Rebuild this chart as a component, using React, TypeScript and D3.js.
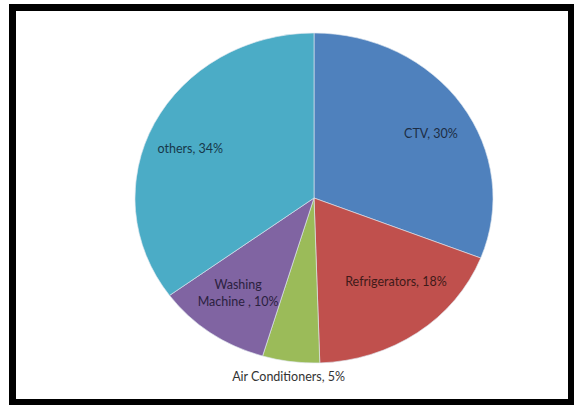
import React from "react";
import * as d3 from "d3";

const categories = ["CTV", "Refrigerators", "Air Conditioners", "Washing Machine", "others"];
const values = [30, 18, 5, 10, 34];
const labelLines = [["CTV, 30%"], ["Refrigerators, 18%"], ["Air Conditioners, 5%"], ["Washing", "Machine , 10%"], ["others, 34%"]];
const colors = ["#4F81BD", "#C0504D", "#9BBB59", "#8064A2", "#4BACC6"];
const labelColors = ["#1d2d44", "#3f1a19", "#333333", "#2b2140", "#17384a"];
const labelRadius = [0.757, 0.69, 1.1, 0.72, 0.75];
const labelAngleShift = [4, -6.3, 0, 0.8, -4.1];

const W = 574;
const H = 405;
const cx = 314;
const cy = 198;
const R = 165;
const sx = 179 / 165;

export default function App() {
  const data = categories.map((c, i) => ({ name: c, value: values[i], i }));
  const pie = d3.pie<any>().sort(null).value((d: any) => d.value).startAngle(0).endAngle(2 * Math.PI);
  const arcs = pie(data);
  const arc = d3.arc<any>().innerRadius(0).outerRadius(R);

  return (
    <svg width={W} height={H} style={{ position: "absolute", left: 0, top: 0, background: "#fff" }}>
      <rect x={0} y={0} width={W} height={H} fill="#fff" />
      <g transform={`translate(${cx},${cy}) scale(${sx},1)`}>
        {arcs.map((a, i) => (
          <path key={i} d={arc(a) as string} fill={colors[i]} stroke="#dfe7ef" strokeWidth={0.6} />
        ))}
      </g>
      <g fontFamily="Lato, 'Open Sans', sans-serif" fontSize={12.5} textAnchor="middle">
        {arcs.map((a, i) => {
          const lr = R * labelRadius[i];
          const ang = (a.startAngle + a.endAngle) / 2 + (labelAngleShift[i] * Math.PI) / 180;
          const x = cx + Math.sin(ang) * lr * sx;
          const y = cy - Math.cos(ang) * lr;
          const lines = labelLines[i];
          const lh = 17;
          const y0 = y - ((lines.length - 1) * lh) / 2;
          return (
            <text key={i} x={x} y={y0} fill={labelColors[i]} dominantBaseline="middle">
              {lines.map((l, j) => (
                <tspan key={j} x={x} y={y0 + j * lh}>{l}</tspan>
              ))}
            </text>
          );
        })}
      </g>
      <rect x={12.5} y={7.5} width={559} height={395} fill="none" stroke="#000" strokeWidth={7} />
    </svg>
  );
}
